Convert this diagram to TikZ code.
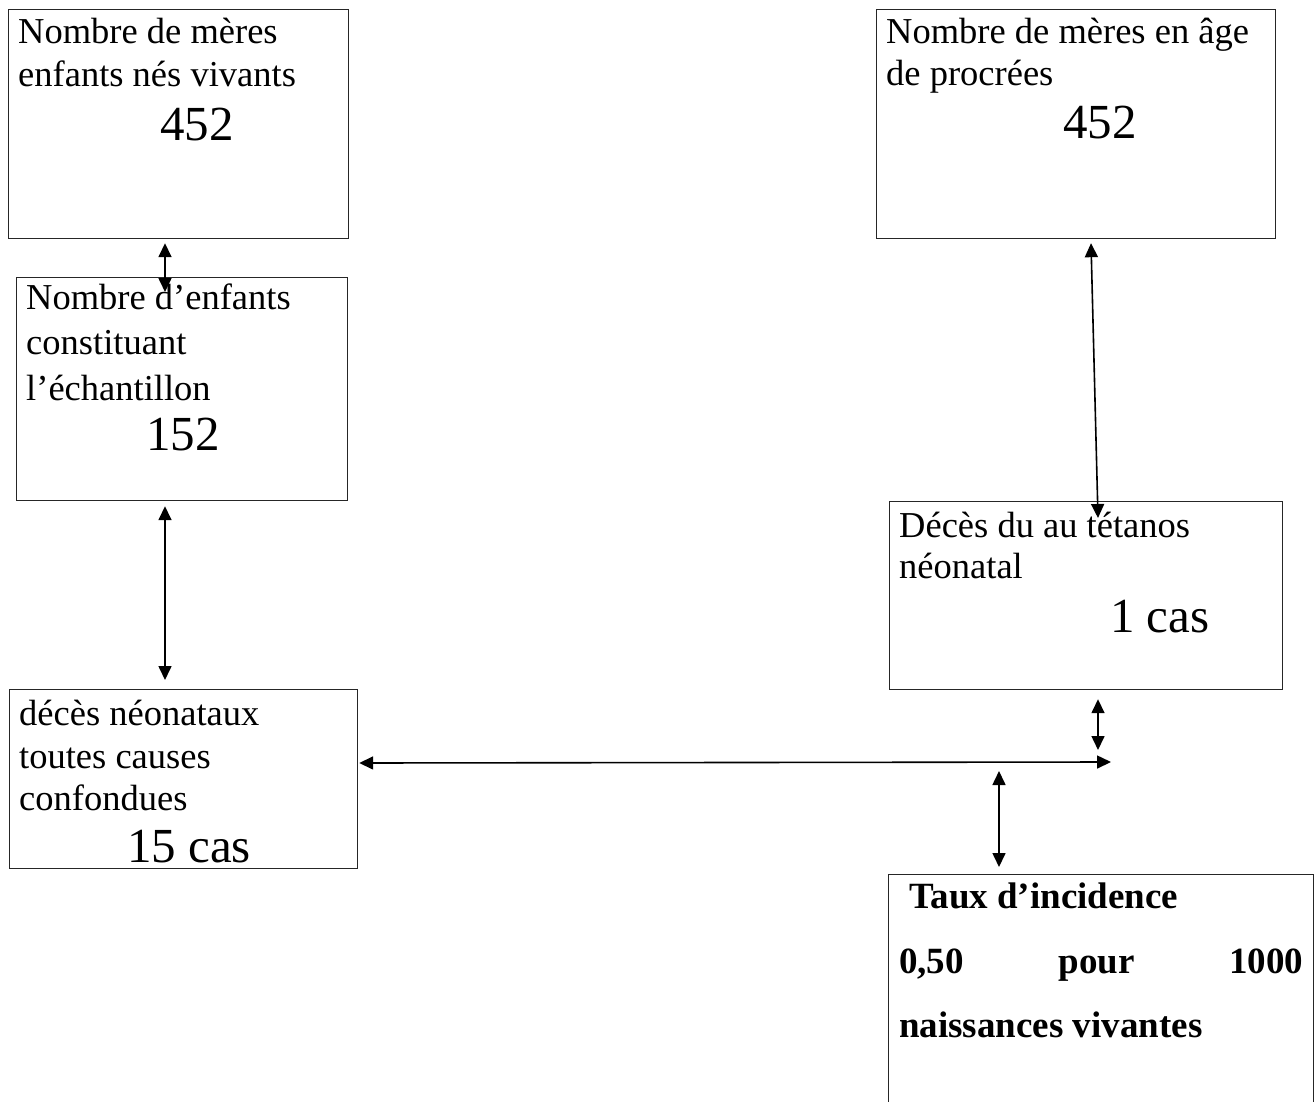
\documentclass[tikz,border=0pt]{standalone}
\usepackage{fontspec}
\setmainfont{Liberation Serif}
\usetikzlibrary{arrows.meta,calc}
\tikzset{
  box/.style={draw=black!85, line width=1.2pt, anchor=north west, inner sep=0pt},
  txt/.style={anchor=base west, inner sep=0pt, font=\fontsize{36.5}{40}\selectfont},
  num/.style={anchor=base west, inner sep=0pt, font=\fontsize{49}{52}\selectfont},
  btxt/.style={anchor=base west, inner sep=0pt, font=\fontsize{37}{40}\selectfont\bfseries},
  dbl/.style={{Triangle[length=14pt,width=13pt]}-{Triangle[length=14pt,width=13pt]}, line width=1.6pt},
}
\begin{document}
\begin{tikzpicture}[x=1pt,y=-1pt]
\useasboundingbox (0,0) rectangle (1316,1102);
% boxes
\node[box, minimum width=340pt, minimum height=229pt] (b1) at (8,9) {};
\node[box, minimum width=399pt, minimum height=229pt] (b2) at (876,9) {};
\node[box, minimum width=331pt, minimum height=223pt] (b3) at (16,277) {};
\node[box, minimum width=393pt, minimum height=188pt] (b4) at (889,501) {};
\node[box, minimum width=348pt, minimum height=179pt] (b5) at (9,689) {};
\node[box, minimum width=425pt, minimum height=240pt] (b6) at (888,874) {};
% texts box 1
\node[txt] (t1a) at (18,44) {Nombre de mères};
\node[txt] (t1b) at (18,87) {enfants nés vivants};
\node[num] (t1c) at (160,141) {452};
% box 2
\node[txt] (t2a) at (886,44) {Nombre de mères en âge};
\node[txt] (t2b) at (886,86) {de procrées};
\node[num] (t2c) at (1063,139) {452};
% box 3
\node[txt] (t3a) at (26,309) {Nombre d’enfants};
\node[txt] (t3b) at (26,354) {constituant};
\node[txt] (t3c) at (26,400) {l’échantillon};
\node[num] (t3d) at (146,450) {152};
% box 4
\node[txt] (t4a) at (899,537) {Décès du au tétanos};
\node[txt] (t4b) at (899,578) {néonatal};
\node[num] (t4c) at (1110,632) {1 cas};
% box 5
\node[txt] (t5a) at (19,725) {décès néonataux};
\node[txt] (t5b) at (19,768) {toutes causes};
\node[txt] (t5c) at (19,810) {confondues};
\node[num] (t5d) at (127,862) {15 cas};
% box 6
\node[btxt] (t6a) at (909,908) {Taux d’incidence};
\node[btxt] (t6b) at (899,973) {\makebox[404pt][s]{0,50\hfill pour\hfill 1000}};
\node[btxt] (t6c) at (899,1037) {naissances vivantes};
% connectors
\coordinate (j1) at (1111,762);
\draw[dbl] ($(b1.south west)+(157,4)$) -- ($(b3.north west)+(149,15)$);
\draw[dbl] ($(b3.south west)+(149,5)$) -- ($(b5.north west)+(156,-9)$);
\draw[dbl] ($(b2.south west)+(215,4)$) -- ($(b4.north west)+(209,17)$);
\draw[dbl] ($(b4.south west)+(209,9)$) -- ($(j1)+(-13,-12)$);
\draw[dbl] ($(b5.north east)+(1,74)$) -- (j1);
\draw[dbl] ($(b6.north west)+(111,-103)$) -- ($(b6.north west)+(111,-7)$);
\end{tikzpicture}
\end{document}
